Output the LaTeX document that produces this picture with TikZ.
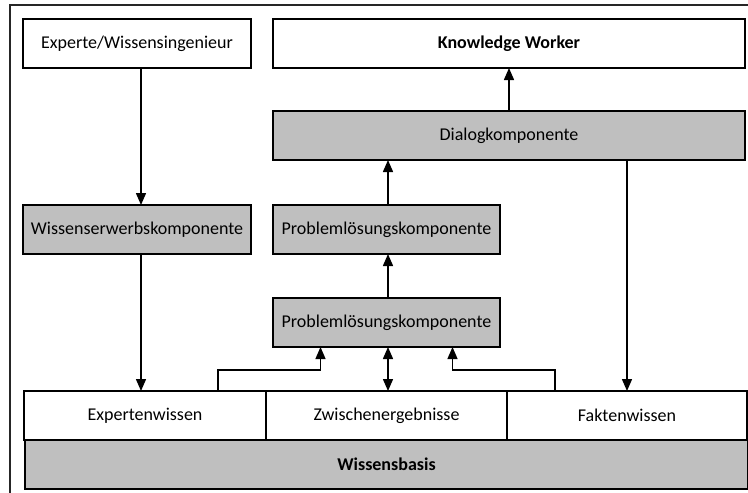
\documentclass[tikz,border=0pt]{standalone}
\usepackage{fontspec}
\setmainfont{Carlito}
\usepackage{tikz}
\usetikzlibrary{
  arrows.meta,
  positioning,
  calc
}
\definecolor{boxgray}{RGB}{191,191,191}
\tikzset{
  plainbox/.style={draw=black, fill=white, line width=1.2pt, inner sep=0pt, outer sep=0pt, minimum height=49pt, font=\fontsize{18}{22}\selectfont},
  graybox/.style={plainbox, fill=boxgray},
  arr/.style={-{Triangle[length=12pt,width=10pt]}, line width=1.5pt},
  dblarr/.style={{Triangle[length=12pt,width=10pt]}-{Triangle[length=12pt,width=10pt]}, line width=1.5pt},
  link/.style={-{Triangle[length=12pt,width=10pt]}, line width=1.2pt}
}

\begin{document}
\begin{tikzpicture}[x=1pt, y=-1pt]
  \useasboundingbox (0,0) rectangle (748,493);
  \clip (0,0) rectangle (748,493);
  \draw[line width=1.3pt, black!85] (10,5) rectangle (770,520);

  \node[plainbox, minimum width=228pt] (expert) at (137,43.5) {Experte/Wissensingenieur};
  \node[plainbox, right=22pt of expert, minimum width=472pt, font=\fontsize{18}{22}\selectfont\bfseries] (kw) {Knowledge Worker};
  \node[graybox, below=43pt of kw, minimum width=472pt] (dialog) {Dialogkomponente};
  \node[graybox, below=137pt of expert, minimum width=228pt] (erwerb) {Wissenserwerbskomponente};
  \node[graybox, right=22pt of erwerb, minimum width=227pt] (psTop) {Problemlösungskomponente};
  \node[graybox, below=44pt of psTop, minimum width=227pt] (psLow) {Problemlösungskomponente};

  \node[plainbox, below=44pt of psLow, minimum width=241pt] (zwisch) {Zwischenergebnisse};
  \node[plainbox, left=0pt of zwisch, minimum width=242pt] (expw) {Expertenwissen};
  \node[plainbox, right=0pt of zwisch, minimum width=240pt] (fakt) {Faktenwissen};
  \node[graybox, below=0pt of zwisch, minimum width=723pt, font=\fontsize{18}{22}\selectfont\bfseries] (basis) {Wissensbasis};

  \draw[arr] ([xshift=4pt]expert.south) -- ([xshift=4pt]erwerb.north);
  \draw[arr] ([xshift=4pt]erwerb.south) -- ([xshift=-4pt]expw.north);
  \draw[arr] (dialog) -- (kw);
  \draw[arr] ([xshift=1.5pt]psTop.north) -- ([xshift=1.5pt]psTop.north |- dialog.south);
  \draw[arr] ([xshift=1.5pt]psLow.north) -- ([xshift=1.5pt]psTop.south);
  \draw[dblarr] ([xshift=1.5pt]zwisch.north) -- ([xshift=1.5pt]psLow.south);
  \draw[arr] (fakt.north |- dialog.south) -- (fakt.north);

  % Zugriffe auf die Wissensbasis
  \draw[link] ([xshift=73pt]expw.north) |- ++(0,-21) -| ([xshift=-66pt]psLow.south);
  \draw[link] ([xshift=-72pt]fakt.north) |- ++(0,-21) -| ([xshift=66pt]psLow.south);
\end{tikzpicture}
\end{document}
